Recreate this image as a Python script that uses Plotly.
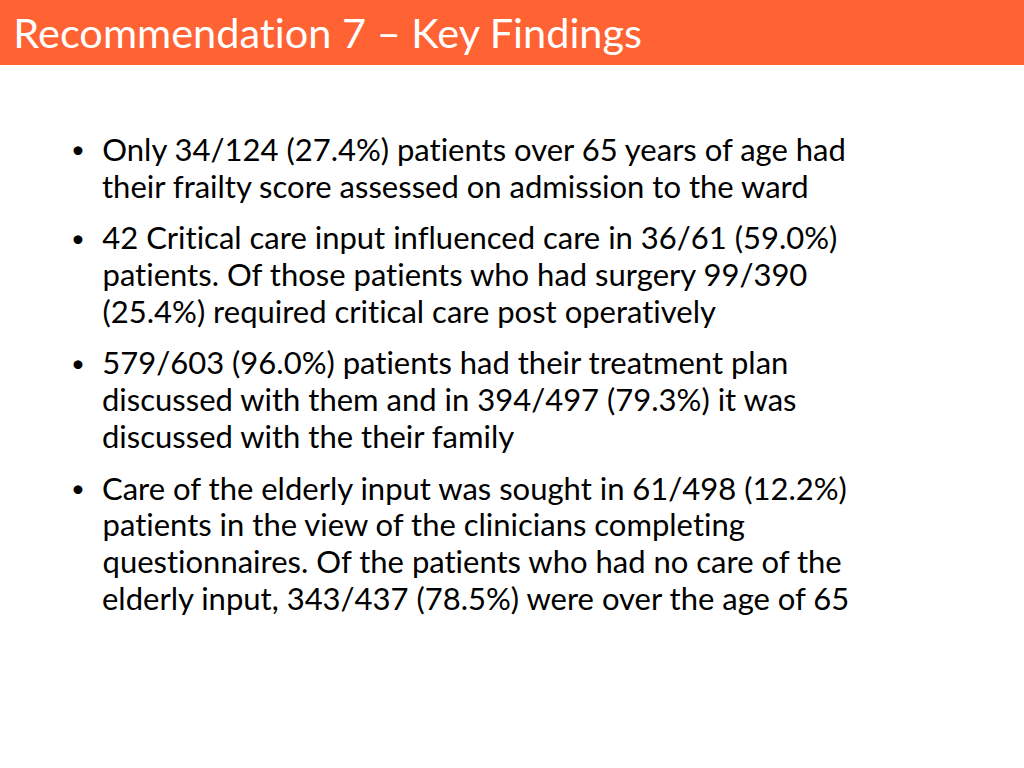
import plotly.graph_objects as go

TITULO = "Recommendation 7 – Key Findings"

PUNTO_1 = [
    "Only 34/124 (27.4%) patients over 65 years of age had",
    "their frailty score assessed on admission to the ward",
]
PUNTO_2 = [
    "42 Critical care input influenced care in 36/61 (59.0%)",
    "patients. Of those patients who had surgery 99/390",
    "(25.4%) required critical care post operatively",
]
PUNTO_3 = [
    "579/603 (96.0%) patients had their treatment plan",
    "discussed with them and in 394/497 (79.3%) it was",
    "discussed with the their family",
]
PUNTO_4 = [
    "Care of the elderly input was sought in 61/498 (12.2%)",
    "patients in the view of the clinicians completing",
    "questionnaires. Of the patients who had no care of the",
    "elderly input, 343/437 (78.5%) were over the age of 65",
]

ANCHO = 1024
ALTO = 768
FUENTE = "Lato"
COLOR_CABECERA = "#FF6233"


def px_x(x):
    return x / ANCHO


def px_y(y):
    return 1 - y / ALTO


def main():
    fig = go.Figure()

    fig.update_layout(
        width=ANCHO,
        height=ALTO,
        margin=dict(l=0, r=0, t=0, b=0),
        paper_bgcolor="#FFFFFF",
        plot_bgcolor="#FFFFFF",
        xaxis=dict(visible=False, range=[0, 1]),
        yaxis=dict(visible=False, range=[0, 1]),
        showlegend=False,
    )

    fig.add_shape(
        type="rect", xref="paper", yref="paper",
        x0=0, x1=1, y0=px_y(65), y1=1,
        fillcolor=COLOR_CABECERA, line_width=0, layer="below",
    )

    fig.add_annotation(
        x=px_x(11), y=px_y(32), xref="paper", yref="paper",
        xanchor="left", yanchor="middle", showarrow=False,
        text=TITULO,
        font=dict(family=FUENTE, size=41.5, color="#FFFFFF"),
    )

    # Cada punto se dibuja línea a línea
    y = 149
    for punto in [PUNTO_1, PUNTO_2, PUNTO_3, PUNTO_4]:
        fig.add_annotation(
            x=px_x(78), y=px_y(y), xref="paper", yref="paper",
            xanchor="center", yanchor="middle", showarrow=False,
            text="•", font=dict(family=FUENTE, size=24, color="#000000"),
        )
        for linea in punto:
            fig.add_annotation(
                x=px_x(100), y=px_y(y), xref="paper", yref="paper",
                xanchor="left", yanchor="middle", showarrow=False,
                text=linea,
                font=dict(family=FUENTE, size=31, color="#000000"),
            )
            y += 36.7
        y += 15

    # quitar el margen del body y las ligaduras de Lato
    js = (
        "document.body.style.margin='0';"
        "var s=document.createElement('style');"
        "s.textContent='svg text{font-variant-ligatures:none !important;"
        "font-feature-settings:\"liga\" 0,\"clig\" 0,\"dlig\" 0,\"calt\" 0 !important;}';"
        "document.head.appendChild(s);"
    )
    fig.write_html("out.html", post_script=js,
                   config={"displayModeBar": False})


if __name__ == "__main__":
    main()
